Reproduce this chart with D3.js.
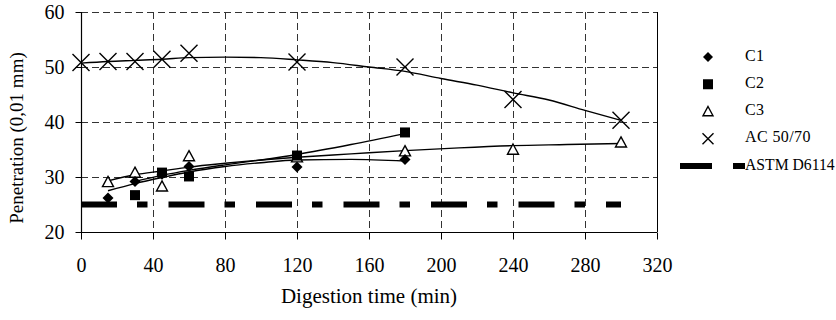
<!DOCTYPE html>
<html>
<head>
<meta charset="utf-8">
<script src="https://cdn.jsdelivr.net/npm/d3@7"></script>
<style>
  body { margin: 0; background: #fff; }
  svg { display: block; }
  svg text { font-family: "Liberation Serif", "DejaVu Serif", serif; }
</style>
</head>
<body>
<svg id="chart" width="836" height="320"></svg>
<script>
const c1Time = [15, 30, 45, 60, 120, 180];
const c1Pen = [26.2, 29.2, 30.5, 31.9, 31.8, 33.2];
const c2Time = [30, 45, 60, 120, 180];
const c2Pen = [26.7, 30.8, 30.1, 33.9, 38.1];
const c3Time = [15, 30, 45, 60, 120, 180, 240, 300];
const c3Pen = [29.1, 30.8, 28.3, 33.8, 33.6, 34.7, 35.0, 36.3];
const acTime = [0, 15, 30, 45, 60, 120, 180, 240, 300];
const acPen = [50.8, 51.0, 51.0, 51.4, 52.5, 50.9, 50.0, 44.1, 40.3];

// Trend lines as drawn in the figure
const c1TrendTime = [15, 30, 45, 60, 80, 100, 120, 150, 180];
const c1TrendPen = [27.5, 28.8, 29.9, 30.9, 31.9, 32.6, 33.1, 33.2, 32.9];
const c2TrendTime = [30, 45, 60, 80, 100, 120, 150, 180];
const c2TrendPen = [29.2, 30.3, 31.2, 32.2, 33.1, 34.1, 35.9, 37.9];
const c3TrendTime = [15, 30, 45, 60, 80, 100, 120, 150, 180, 210, 240, 270, 300];
const c3TrendPen = [29.3, 30.4, 31.1, 31.8, 32.5, 33.1, 33.6, 34.2, 34.8, 35.3, 35.7, 35.9, 36.1];
const acTrendTime = [0, 15, 30, 45, 60, 80, 100, 120, 140, 160, 180, 200, 220, 240, 260, 280, 300];
const acTrendPen = [50.7, 51.0, 51.2, 51.4, 51.7, 51.8, 51.7, 51.3, 50.8, 50.0, 49.2, 47.9, 46.7, 45.3, 44.0, 42.1, 40.3];

// ASTM D6114 minimum penetration
const astmTime = [0, 300];
const astmPen = [25, 25];

const xTicks = [0, 40, 80, 120, 160, 200, 240, 280, 320];
const yTicks = [20, 30, 40, 50, 60];
const legendLabels = ['C1', 'C2', 'C3', 'AC 50/70', 'ASTM D6114'];

const zip = (ts, vs) => ts.map((t, i) => ({ t, v: vs[i] }));
const serif = '"Liberation Serif", "DejaVu Serif", serif';

const svg = d3.select('#chart');
const x = d3.scaleLinear().domain([0, 320]).range([81, 657]);
const y = d3.scaleLinear().domain([20, 60]).range([232, 12]);
const px = (v) => Math.round(v) + 0.5;

const gridDash = '7,4';
const astmDash = '36,20,10.5,21';

// Grid
svg.append('g')
  .selectAll('line')
  .data(yTicks.filter((d) => d > 20))
  .join('line')
  .attr('x1', x(0)).attr('x2', x(320))
  .attr('y1', (d) => px(y(d))).attr('y2', (d) => px(y(d)))
  .attr('stroke', '#333').attr('stroke-width', 1)
  .attr('stroke-dasharray', gridDash);

svg.append('g')
  .selectAll('line')
  .data(xTicks.filter((d) => d > 0 && d < 320))
  .join('line')
  .attr('x1', (d) => px(x(d))).attr('x2', (d) => px(x(d)))
  .attr('y1', y(60)).attr('y2', y(20))
  .attr('stroke', '#333').attr('stroke-width', 1)
  .attr('stroke-dasharray', gridDash);

// Right border
svg.append('line')
  .attr('x1', px(x(320))).attr('x2', px(x(320)))
  .attr('y1', y(60)).attr('y2', y(20))
  .attr('stroke', '#000').attr('stroke-width', 1);

// Axes
const xAxis = d3.axisBottom(x).tickValues(xTicks).tickSize(7).tickPadding(18);
const yAxis = d3.axisLeft(y).tickValues(yTicks).tickSize(6).tickPadding(11);

const gx = svg.append('g').attr('transform', `translate(0,${px(y(20))})`).call(xAxis);
const gy = svg.append('g').attr('transform', `translate(${px(x(0))},0)`).call(yAxis);
[gx, gy].forEach((g) => {
  g.attr('font-family', serif);
  g.select('.domain').attr('stroke', '#000').attr('stroke-width', 1.2);
  g.selectAll('.tick line').attr('stroke', '#000');
  g.selectAll('.tick text')
    .attr('fill', '#000')
    .style('font-family', serif)
    .style('font-size', '20px');
});
gx.select('.domain').attr('d', `M${x(0)},0H${x(320)}`);
gy.select('.domain').attr('d', `M0,${y(60)}V${y(20)}`);

// Axis titles
svg.append('text')
  .attr('transform', `translate(19,${(y(20) + y(60)) / 2 + 16}) rotate(-90)`)
  .attr('text-anchor', 'middle')
  .attr('dominant-baseline', 'middle')
  .style('font-size', '19px')
  .text('Penetration (0,01 mm)');

svg.append('text')
  .attr('x', 369).attr('y', 303)
  .attr('text-anchor', 'middle')
  .style('font-size', '21px')
  .text('Digestion time (min)');

// ASTM line
const line = d3.line().x((d) => x(d.t)).y((d) => y(d.v));
svg.append('path')
  .datum(zip(astmTime, astmPen))
  .attr('d', line)
  .attr('fill', 'none')
  .attr('stroke', '#000')
  .attr('stroke-width', 6)
  .attr('stroke-dasharray', astmDash);

// Trend lines
const trend = d3.line().x((d) => x(d.t)).y((d) => y(d.v)).curve(d3.curveMonotoneX);
[[c1TrendTime, c1TrendPen], [c2TrendTime, c2TrendPen], [c3TrendTime, c3TrendPen], [acTrendTime, acTrendPen]]
  .forEach(([ts, vs]) => {
    svg.append('path')
      .datum(zip(ts, vs))
      .attr('d', trend)
      .attr('fill', 'none')
      .attr('stroke', '#000')
      .attr('stroke-width', 1.4);
  });

// Marker drawers
function drawMarker(g, kind, size) {
  const s = size / 2;
  if (kind === 'diamond') {
    g.append('path').attr('d', `M0,${-s}L${s},0L0,${s}L${-s},0Z`).attr('fill', '#000');
  } else if (kind === 'square') {
    g.append('rect').attr('x', -s).attr('y', -s).attr('width', size).attr('height', size).attr('fill', '#000');
  } else if (kind === 'triangle') {
    g.append('path').attr('d', `M0,${-s}L${s},${s * 0.85}L${-s},${s * 0.85}Z`)
      .attr('fill', '#fff').attr('stroke', '#000').attr('stroke-width', 1.4);
  } else if (kind === 'cross') {
    g.append('path').attr('d', `M${-s},${-s}L${s},${s}M${s},${-s}L${-s},${s}`)
      .attr('stroke', '#000').attr('stroke-width', 1.4).attr('fill', 'none');
  }
}

const series = [
  { data: zip(c3Time, c3Pen), kind: 'triangle', size: 11 },
  { data: zip(c1Time, c1Pen), kind: 'diamond', size: 11 },
  { data: zip(c2Time, c2Pen), kind: 'square', size: 10 },
  { data: zip(acTime, acPen), kind: 'cross', size: 17 }
];
series.forEach((s) => {
  svg.append('g')
    .selectAll('g')
    .data(s.data)
    .join('g')
    .attr('transform', (d) => `translate(${x(d.t)},${y(d.v)})`)
    .each(function () { drawMarker(d3.select(this), s.kind, s.size); });
});

// Legend
const legendKinds = ['diamond', 'square', 'triangle', 'cross', 'astm'];
const legendY = d3.scalePoint().domain(legendLabels).range([57, 166]);
legendLabels.forEach((lab, i) => {
  const ly = legendY(lab);
  const g = svg.append('g').attr('transform', `translate(708,${ly})`);
  if (legendKinds[i] === 'astm') {
    svg.append('line')
      .attr('x1', 680).attr('x2', 745).attr('y1', ly).attr('y2', ly)
      .attr('stroke', '#000').attr('stroke-width', 6)
      .attr('stroke-dasharray', '32,21,12,30');
  } else {
    drawMarker(g, legendKinds[i], legendKinds[i] === 'cross' ? 11 : 10);
  }
  svg.append('text')
    .attr('x', 745).attr('y', ly)
    .attr('dominant-baseline', 'middle')
    .style('font-family', serif)
    .style('font-size', lab.length > 8 ? '15.7px' : '16px')
    .style('letter-spacing', lab.length > 8 ? '0px' : '0.4px')
    .text(lab);
});
</script>
</body>
</html>
